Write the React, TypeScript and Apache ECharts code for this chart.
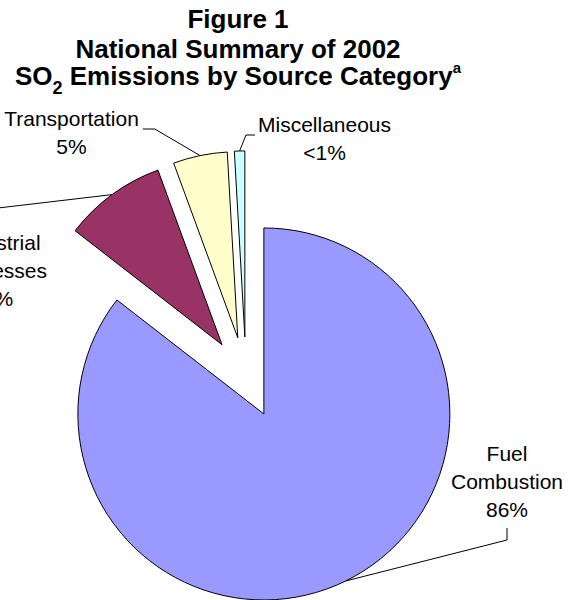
import React, { useEffect, useRef } from "react";
import * as echarts from "echarts";

// ---------- data ----------
const categories = ["Fuel Combustion", "Industrial Processes", "Transportation", "Miscellaneous"];
const shares = [85.5, 8.9, 4.7, 0.9];
const shareLabels = ["86%", "8%", "5%", "<1%"];
const labelWords = [["Fuel", "Combustion"], ["Industrial", "Processes"], ["Transportation"], ["Miscellaneous"]];
const titleLine1 = "Figure 1";
const titleLine2 = "National Summary of 2002";
const titleFormula = "SO";
const titleSub = "2";
const titleRest = " Emissions by Source Category";
const titleNote = "a";

// ---------- styles / layout ----------
const sliceColors = ["#9999FF", "#993366", "#FFFFCC", "#CCFFFF"];
const FONT = '"Liberation Sans", Arial, Helvetica, sans-serif';
const PIE_CX = 246;
const PIE_CY = 377.5;
const PIE_R = 186;
const EXPLODE = 40.6;
const LABEL_FS = 21;
const LABEL_LH = 28;
const TITLE_X = 238;
const labelAnchors = [
  { x: 507, y: 481, side: "bottom" },
  { x: -2, y: 270, side: "top" },
  { x: 71.5, y: 132, side: "right" },
  { x: 324.5, y: 138, side: "left" },
];

let measureCtx: CanvasRenderingContext2D | null = null;
function measure(t: string): number {
  if (!measureCtx) measureCtx = document.createElement("canvas").getContext("2d");
  if (!measureCtx) return t.length * LABEL_FS * 0.5;
  measureCtx.font = `${LABEL_FS}px ${FONT}`;
  return measureCtx.measureText(t).width;
}

export default function App() {
  const ref = useRef<HTMLDivElement>(null);

  useEffect(() => {
    if (!ref.current) return;
    const chart = echarts.init(ref.current, undefined, { renderer: "svg" });

    const total = shares.reduce((a, b) => a + b, 0);
    const mids: number[] = [];
    let acc = 0;
    shares.forEach((v) => {
      mids.push(((acc + v / 2) / total) * Math.PI * 2);
      acc += v;
    });
    const sliceCenter = (i: number) => [
      PIE_CX + EXPLODE * Math.sin(mids[i]),
      PIE_CY - EXPLODE * Math.cos(mids[i]),
    ];

    const series = categories.map((_, i) => {
      const c = sliceCenter(i);
      return {
        type: "pie",
        center: c,
        radius: [0, PIE_R],
        startAngle: 90,
        clockwise: true,
        silent: true,
        selectedMode: false,
        avoidLabelOverlap: false,
        minAngle: 0,
        emphasis: { disabled: true },
        label: {
          position: "outside",
          formatter: () => [...labelWords[i], shareLabels[i]].join("\n"),
          fontFamily: FONT,
          fontSize: LABEL_FS,
          lineHeight: LABEL_LH,
          color: "#000",
          width: 240,
          overflow: "none",
          align: "center",
        },
        labelLine: { show: true, length: 10, length2: 10, lineStyle: { color: "#000", width: 1 } },
        labelLayout: (params: any) => {
          if (params.dataIndex !== i) return {};
          const a = labelAnchors[i];
          const lines = [...labelWords[i], shareLabels[i]];
          const w = Math.max(...lines.map((t) => measure(t)));
          const h = lines.length * LABEL_LH;
          const edge = [c[0] + PIE_R * Math.sin(mids[i]), c[1] - PIE_R * Math.cos(mids[i])];
          let p1: number[];
          let p2: number[];
          if (a.side === "bottom") {
            p2 = [a.x, a.y + h / 2 + 5];
            p1 = [a.x, a.y + h / 2 + 17];
          } else if (a.side === "top") {
            p2 = [a.x, a.y - h / 2 - 5];
            p1 = [a.x, a.y - h / 2 - 20];
          } else if (a.side === "right") {
            p2 = [a.x + w / 2 + 4, a.y - 3];
            p1 = [a.x + w / 2 + 16, a.y - 3];
          } else {
            p2 = [a.x - w / 2 - 3, a.y - 3];
            p1 = [a.x - w / 2 - 12, a.y - 3];
          }
          return {
            x: a.x,
            y: a.y,
            align: "center",
            verticalAlign: "middle",
            labelLinePoints: [edge, p1, p2],
          };
        },
        data: categories.map((name, j) => ({
          name,
          value: shares[j],
          itemStyle:
            j === i
              ? { color: sliceColors[j], borderColor: "#000", borderWidth: 1 }
              : { color: "rgba(0,0,0,0)", borderWidth: 0 },
          label: { show: j === i },
          labelLine: { show: j === i },
        })),
      };
    });

    const titleStyle = (text: string) => ({
      text,
      fontFamily: FONT,
      fontSize: 26,
      fontWeight: "bold",
      fill: "#000",
      align: "center",
      verticalAlign: "middle",
      textAlign: "center",
      textVerticalAlign: "middle",
    });

    chart.setOption({
      animation: false,
      backgroundColor: "#ffffff",
      series,
      graphic: [
        { type: "text", x: TITLE_X, y: 19, style: titleStyle(titleLine1), silent: true },
        { type: "text", x: TITLE_X, y: 49, style: titleStyle(titleLine2), silent: true },
        {
          type: "text",
          x: TITLE_X,
          y: 76,
          silent: true,
          style: {
            ...titleStyle(`{n|${titleFormula}}{s|${titleSub}}{n|${titleRest}}{p|${titleNote}}`),
            rich: {
              n: { fontFamily: FONT, fontSize: 26, fontWeight: "bold", fill: "#000" },
              s: { fontFamily: FONT, fontSize: 18, fontWeight: "bold", fill: "#000", padding: [24, 0, 0, 0] },
              p: { fontFamily: FONT, fontSize: 15, fontWeight: "bold", fill: "#000", padding: [0, 0, 18, 0] },
            },
          },
        },
      ],
    });

    return () => chart.dispose();
  }, []);

  return (
    <div
      ref={ref}
      style={{ position: "absolute", left: 0, top: 0, width: 568, height: 600 }}
    />
  );
}
